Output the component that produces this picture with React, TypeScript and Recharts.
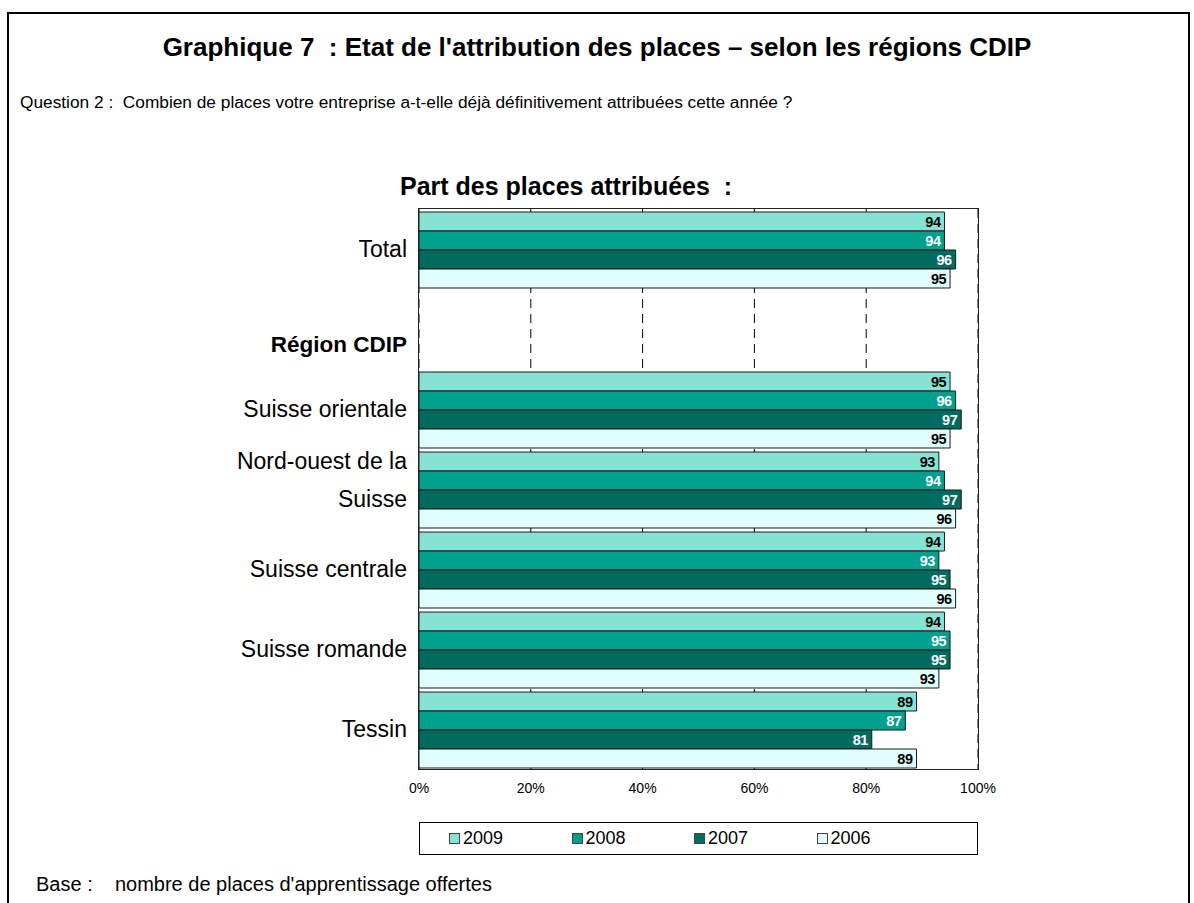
import React from 'react';
import {BarChart, Bar, XAxis, YAxis, CartesianGrid, LabelList} from 'recharts';

const regions = ['Total', '', 'Suisse orientale', 'Nord-ouest de la|Suisse', 'Suisse centrale', 'Suisse romande', 'Tessin'];
const v2009 = [94, null, 95, 93, 94, 94, 89];
const v2008 = [94, null, 96, 94, 93, 95, 87];
const v2007 = [96, null, 97, 97, 95, 95, 81];
const v2006 = [95, null, 95, 96, 96, 93, 89];
const xTicks = [0, 20, 40, 60, 80, 100];

const years = [
    {key: 'y2009', name: '2009', fill: '#86E3D3', label: '#000'},
    {key: 'y2008', name: '2008', fill: '#00A08E', label: '#fff'},
    {key: 'y2007', name: '2007', fill: '#006B5F', label: '#fff'},
    {key: 'y2006', name: '2006', fill: '#E0FFFC', label: '#000'},
];

const data = regions.map((r, i) => ({
    name: r, y2009: v2009[i], y2008: v2008[i], y2007: v2007[i], y2006: v2006[i]
}));

const FONT = '"Liberation Sans", Arial, sans-serif';

const RegionTick = (props: any) => {
    const {x, y, payload} = props;
    const lines = String(payload.value).split('|');
    const tx = x - 4;
    if (lines[0] === '') {
        return <text x={tx} y={y + 23} textAnchor="end" fontSize={22.5} fontWeight="bold" fill="#000" fontFamily={FONT}>Région CDIP</text>;
    }
    if (lines.length > 1) {
        return (
            <g>
                <text x={tx} y={y - 20} textAnchor="end" fontSize={23} fill="#000" fontFamily={FONT}>{lines[0]}</text>
                <text x={tx} y={y + 18} textAnchor="end" fontSize={23} fill="#000" fontFamily={FONT}>{lines[1]}</text>
            </g>
        );
    }
    return <text x={tx} y={y + 8} textAnchor="end" fontSize={23} fill="#000" fontFamily={FONT}>{lines[0]}</text>;
};

const App = () => {
    return (
        <div style={{position: 'absolute', left: 0, top: 0, width: 1194, height: 903, background: '#fff', fontFamily: FONT, overflow: 'hidden'}}>
            <div style={{position: 'absolute', left: 7, top: 12, width: 1183, height: 900, border: '2px solid #000', boxSizing: 'border-box'}}/>
            <div style={{position: 'absolute', left: 0, width: 1194, top: 32, textAlign: 'center', fontSize: 26, fontWeight: 'bold', whiteSpace: 'pre'}}>
                Graphique 7  : Etat de l'attribution des places – selon les régions CDIP
            </div>
            <div style={{position: 'absolute', left: 20, top: 92, fontSize: 17.3, whiteSpace: 'pre'}}>
                Question 2 :  Combien de places votre entreprise a-t-elle déjà définitivement attribuées cette année ?
            </div>
            <div style={{position: 'absolute', left: 400, top: 172, fontSize: 25, fontWeight: 'bold', whiteSpace: 'pre'}}>
                Part des places attribuées  :
            </div>
            <div style={{position: 'absolute', left: 0, top: 0}}>
                <BarChart width={1194} height={903} data={data} layout="vertical"
                          margin={{top: 209, right: 216, bottom: 104, left: 19}}
                          barCategoryGap={3} barGap={0}>
                    <CartesianGrid horizontal={false} stroke="#000" strokeDasharray="9 6"/>
                    <XAxis type="number" domain={[0, 100]} ticks={xTicks} tickFormatter={(v: number) => v + '%'}
                           tickLine={false} axisLine={false} interval={0}
                           tick={{fontSize: 14, fill: '#000', fontFamily: FONT}} tickMargin={8}/>
                    <YAxis type="category" dataKey="name" width={400} axisLine={false} tickLine={false}
                           tick={<RegionTick/>} interval={0}/>
                    {years.map(s => (
                        <Bar key={s.key} dataKey={s.key} name={s.name} fill={s.fill} stroke="#1a1a1a" strokeWidth={1}
                             isAnimationActive={false}>
                            <LabelList dataKey={s.key} position="insideRight" offset={4} fill={s.label}
                                       fontSize={14.5} fontWeight="bold" fontFamily={FONT} letterSpacing={-0.5}/>
                        </Bar>
                    ))}
                </BarChart>
            </div>
            <div style={{position: 'absolute', left: 418, top: 208, width: 561, height: 562, border: '1.5px solid #222', boxSizing: 'border-box', pointerEvents: 'none'}}/>
            <div style={{position: 'absolute', left: 419, top: 822, width: 559, height: 33, border: '1px solid #000', boxSizing: 'border-box'}}>
                {years.map((s, i) => (
                    <div key={s.key} style={{position: 'absolute', left: 29 + i * 122.5, top: 5, display: 'flex', alignItems: 'center', fontSize: 18, lineHeight: '21px'}}>
                        <span style={{display: 'inline-block', width: 11, height: 11, background: s.fill, border: '1px solid #444', boxSizing: 'border-box', marginRight: 3}}/>
                        {s.name}
                    </div>
                ))}
            </div>
            <div style={{position: 'absolute', left: 36, top: 873, fontSize: 20, whiteSpace: 'pre'}}>
                Base :    nombre de places d'apprentissage offertes
            </div>
        </div>
    );
};

export default App;
